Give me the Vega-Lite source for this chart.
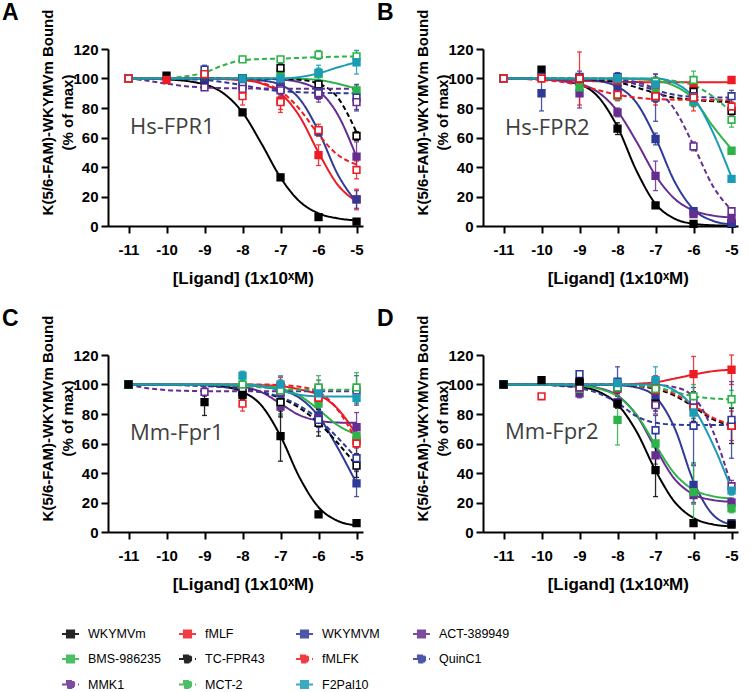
{
  "$schema": "https://vega.github.io/schema/vega-lite/v6.json",
  "padding": {"left": 2, "top": 2, "right": 0, "bottom": 0},
  "datasets": {
    "receptors": [
      {"panel": "A", "receptor": "Hs-FPR1"},
      {"panel": "B", "receptor": "Hs-FPR2"},
      {"panel": "C", "receptor": "Mm-Fpr1"},
      {"panel": "D", "receptor": "Mm-Fpr2"}
    ],
    "pts": [
      {"panel":"A","ligand":"WKYMVm","logc":-11,"pct":100,"sem":0},
      {"panel":"A","ligand":"WKYMVm","logc":-10,"pct":102,"sem":1.5},
      {"panel":"A","ligand":"WKYMVm","logc":-9,"pct":99,"sem":2},
      {"panel":"A","ligand":"WKYMVm","logc":-8,"pct":77,"sem":2},
      {"panel":"A","ligand":"WKYMVm","logc":-7,"pct":33,"sem":2},
      {"panel":"A","ligand":"WKYMVm","logc":-6,"pct":6,"sem":1},
      {"panel":"A","ligand":"WKYMVm","logc":-5,"pct":3,"sem":1},
      {"panel":"A","ligand":"fMLF","logc":-11,"pct":100,"sem":0},
      {"panel":"A","ligand":"fMLF","logc":-10,"pct":99,"sem":0},
      {"panel":"A","ligand":"fMLF","logc":-9,"pct":103,"sem":2},
      {"panel":"A","ligand":"fMLF","logc":-8,"pct":96,"sem":3},
      {"panel":"A","ligand":"fMLF","logc":-7,"pct":85,"sem":6},
      {"panel":"A","ligand":"fMLF","logc":-6,"pct":48,"sem":7},
      {"panel":"A","ligand":"fMLF","logc":-5,"pct":18,"sem":7},
      {"panel":"A","ligand":"WKYMVM","logc":-11,"pct":100,"sem":0},
      {"panel":"A","ligand":"WKYMVM","logc":-9,"pct":100,"sem":1},
      {"panel":"A","ligand":"WKYMVM","logc":-8,"pct":100,"sem":2},
      {"panel":"A","ligand":"WKYMVM","logc":-7,"pct":95,"sem":4},
      {"panel":"A","ligand":"WKYMVM","logc":-6,"pct":64,"sem":3},
      {"panel":"A","ligand":"WKYMVM","logc":-5,"pct":18,"sem":6},
      {"panel":"A","ligand":"ACT-389949","logc":-11,"pct":100,"sem":0},
      {"panel":"A","ligand":"ACT-389949","logc":-8,"pct":100,"sem":1},
      {"panel":"A","ligand":"ACT-389949","logc":-7,"pct":97,"sem":3},
      {"panel":"A","ligand":"ACT-389949","logc":-6,"pct":89,"sem":5},
      {"panel":"A","ligand":"ACT-389949","logc":-5,"pct":47,"sem":10},
      {"panel":"A","ligand":"BMS-986235","logc":-11,"pct":100,"sem":0},
      {"panel":"A","ligand":"BMS-986235","logc":-8,"pct":100,"sem":2},
      {"panel":"A","ligand":"BMS-986235","logc":-7,"pct":104,"sem":3},
      {"panel":"A","ligand":"BMS-986235","logc":-6,"pct":103,"sem":4},
      {"panel":"A","ligand":"BMS-986235","logc":-5,"pct":92,"sem":3},
      {"panel":"A","ligand":"TC-FPR43","logc":-11,"pct":100,"sem":0},
      {"panel":"A","ligand":"TC-FPR43","logc":-8,"pct":100,"sem":2},
      {"panel":"A","ligand":"TC-FPR43","logc":-7,"pct":107,"sem":3},
      {"panel":"A","ligand":"TC-FPR43","logc":-6,"pct":96,"sem":2},
      {"panel":"A","ligand":"TC-FPR43","logc":-5,"pct":61,"sem":3},
      {"panel":"A","ligand":"QuinC1","logc":-11,"pct":100,"sem":0},
      {"panel":"A","ligand":"QuinC1","logc":-9,"pct":106,"sem":3},
      {"panel":"A","ligand":"QuinC1","logc":-8,"pct":95,"sem":3},
      {"panel":"A","ligand":"QuinC1","logc":-7,"pct":93,"sem":4},
      {"panel":"A","ligand":"QuinC1","logc":-6,"pct":91,"sem":5},
      {"panel":"A","ligand":"QuinC1","logc":-5,"pct":87,"sem":9},
      {"panel":"A","ligand":"MMK1","logc":-11,"pct":100,"sem":0},
      {"panel":"A","ligand":"MMK1","logc":-9,"pct":94,"sem":2},
      {"panel":"A","ligand":"MMK1","logc":-8,"pct":93,"sem":3},
      {"panel":"A","ligand":"MMK1","logc":-7,"pct":92,"sem":4},
      {"panel":"A","ligand":"MMK1","logc":-6,"pct":90,"sem":4},
      {"panel":"A","ligand":"MMK1","logc":-5,"pct":84,"sem":5},
      {"panel":"A","ligand":"MCT-2","logc":-11,"pct":100,"sem":0},
      {"panel":"A","ligand":"MCT-2","logc":-9,"pct":103,"sem":2},
      {"panel":"A","ligand":"MCT-2","logc":-8,"pct":113,"sem":2},
      {"panel":"A","ligand":"MCT-2","logc":-7,"pct":113,"sem":2},
      {"panel":"A","ligand":"MCT-2","logc":-6,"pct":116,"sem":3},
      {"panel":"A","ligand":"MCT-2","logc":-5,"pct":115,"sem":4},
      {"panel":"A","ligand":"F2Pal10","logc":-11,"pct":100,"sem":0},
      {"panel":"A","ligand":"F2Pal10","logc":-8,"pct":100,"sem":2},
      {"panel":"A","ligand":"F2Pal10","logc":-7,"pct":100,"sem":3},
      {"panel":"A","ligand":"F2Pal10","logc":-6,"pct":104,"sem":5},
      {"panel":"A","ligand":"F2Pal10","logc":-5,"pct":111,"sem":8},
      {"panel":"A","ligand":"fMLFK","logc":-11,"pct":100,"sem":0},
      {"panel":"A","ligand":"fMLFK","logc":-9,"pct":103,"sem":2},
      {"panel":"A","ligand":"fMLFK","logc":-8,"pct":88,"sem":6},
      {"panel":"A","ligand":"fMLFK","logc":-7,"pct":84,"sem":7},
      {"panel":"A","ligand":"fMLFK","logc":-6,"pct":65,"sem":4},
      {"panel":"A","ligand":"fMLFK","logc":-5,"pct":38,"sem":6},

      {"panel":"B","ligand":"WKYMVm","logc":-11,"pct":100,"sem":0},
      {"panel":"B","ligand":"WKYMVm","logc":-10,"pct":106,"sem":1},
      {"panel":"B","ligand":"WKYMVm","logc":-9,"pct":98,"sem":2},
      {"panel":"B","ligand":"WKYMVm","logc":-8,"pct":66,"sem":4},
      {"panel":"B","ligand":"WKYMVm","logc":-7,"pct":14,"sem":1.5},
      {"panel":"B","ligand":"WKYMVm","logc":-6,"pct":1.5,"sem":0.5},
      {"panel":"B","ligand":"WKYMVm","logc":-5,"pct":1.5,"sem":0.5},
      {"panel":"B","ligand":"fMLF","logc":-11,"pct":100,"sem":0},
      {"panel":"B","ligand":"fMLF","logc":-9,"pct":99,"sem":2},
      {"panel":"B","ligand":"fMLF","logc":-8,"pct":97,"sem":2},
      {"panel":"B","ligand":"fMLF","logc":-7,"pct":95,"sem":3},
      {"panel":"B","ligand":"fMLF","logc":-6,"pct":96,"sem":2},
      {"panel":"B","ligand":"fMLF","logc":-5,"pct":99,"sem":2},
      {"panel":"B","ligand":"WKYMVM","logc":-11,"pct":100,"sem":0},
      {"panel":"B","ligand":"WKYMVM","logc":-10,"pct":90,"sem":12},
      {"panel":"B","ligand":"WKYMVM","logc":-9,"pct":100,"sem":3},
      {"panel":"B","ligand":"WKYMVM","logc":-8,"pct":93,"sem":3},
      {"panel":"B","ligand":"WKYMVM","logc":-7,"pct":59,"sem":4},
      {"panel":"B","ligand":"WKYMVM","logc":-6,"pct":10,"sem":2},
      {"panel":"B","ligand":"WKYMVM","logc":-5,"pct":2,"sem":1},
      {"panel":"B","ligand":"ACT-389949","logc":-11,"pct":100,"sem":0},
      {"panel":"B","ligand":"ACT-389949","logc":-9,"pct":90,"sem":10},
      {"panel":"B","ligand":"ACT-389949","logc":-8,"pct":77,"sem":3},
      {"panel":"B","ligand":"ACT-389949","logc":-7,"pct":34,"sem":10},
      {"panel":"B","ligand":"ACT-389949","logc":-6,"pct":8,"sem":2},
      {"panel":"B","ligand":"ACT-389949","logc":-5,"pct":5,"sem":1},
      {"panel":"B","ligand":"BMS-986235","logc":-11,"pct":100,"sem":0},
      {"panel":"B","ligand":"BMS-986235","logc":-9,"pct":94,"sem":3},
      {"panel":"B","ligand":"BMS-986235","logc":-8,"pct":88,"sem":3},
      {"panel":"B","ligand":"BMS-986235","logc":-7,"pct":90,"sem":5},
      {"panel":"B","ligand":"BMS-986235","logc":-6,"pct":84,"sem":3},
      {"panel":"B","ligand":"BMS-986235","logc":-5,"pct":51,"sem":2},
      {"panel":"B","ligand":"TC-FPR43","logc":-11,"pct":100,"sem":0},
      {"panel":"B","ligand":"TC-FPR43","logc":-9,"pct":100,"sem":2},
      {"panel":"B","ligand":"TC-FPR43","logc":-8,"pct":100,"sem":2},
      {"panel":"B","ligand":"TC-FPR43","logc":-7,"pct":88,"sem":4},
      {"panel":"B","ligand":"TC-FPR43","logc":-6,"pct":91,"sem":4},
      {"panel":"B","ligand":"TC-FPR43","logc":-5,"pct":78,"sem":4},
      {"panel":"B","ligand":"QuinC1","logc":-11,"pct":100,"sem":0},
      {"panel":"B","ligand":"QuinC1","logc":-10,"pct":101,"sem":3},
      {"panel":"B","ligand":"QuinC1","logc":-9,"pct":101,"sem":4},
      {"panel":"B","ligand":"QuinC1","logc":-8,"pct":101,"sem":3},
      {"panel":"B","ligand":"QuinC1","logc":-7,"pct":87,"sem":16},
      {"panel":"B","ligand":"QuinC1","logc":-6,"pct":88,"sem":5},
      {"panel":"B","ligand":"QuinC1","logc":-5,"pct":88,"sem":4},
      {"panel":"B","ligand":"MMK1","logc":-11,"pct":100,"sem":0},
      {"panel":"B","ligand":"MMK1","logc":-9,"pct":100,"sem":3},
      {"panel":"B","ligand":"MMK1","logc":-8,"pct":100,"sem":2},
      {"panel":"B","ligand":"MMK1","logc":-7,"pct":97,"sem":6},
      {"panel":"B","ligand":"MMK1","logc":-6,"pct":54,"sem":3},
      {"panel":"B","ligand":"MMK1","logc":-5,"pct":10,"sem":2},
      {"panel":"B","ligand":"MCT-2","logc":-11,"pct":100,"sem":0},
      {"panel":"B","ligand":"MCT-2","logc":-8,"pct":100,"sem":2},
      {"panel":"B","ligand":"MCT-2","logc":-7,"pct":98,"sem":3},
      {"panel":"B","ligand":"MCT-2","logc":-6,"pct":99,"sem":6},
      {"panel":"B","ligand":"MCT-2","logc":-5,"pct":72,"sem":5},
      {"panel":"B","ligand":"F2Pal10","logc":-11,"pct":100,"sem":0},
      {"panel":"B","ligand":"F2Pal10","logc":-8,"pct":100,"sem":2},
      {"panel":"B","ligand":"F2Pal10","logc":-7,"pct":96,"sem":5},
      {"panel":"B","ligand":"F2Pal10","logc":-6,"pct":85,"sem":4},
      {"panel":"B","ligand":"F2Pal10","logc":-5,"pct":32,"sem":2},
      {"panel":"B","ligand":"fMLFK","logc":-11,"pct":100,"sem":0},
      {"panel":"B","ligand":"fMLFK","logc":-10,"pct":100,"sem":2},
      {"panel":"B","ligand":"fMLFK","logc":-9,"pct":100,"sem":18},
      {"panel":"B","ligand":"fMLFK","logc":-8,"pct":89,"sem":4},
      {"panel":"B","ligand":"fMLFK","logc":-7,"pct":88,"sem":6},
      {"panel":"B","ligand":"fMLFK","logc":-6,"pct":87,"sem":9},
      {"panel":"B","ligand":"fMLFK","logc":-5,"pct":81,"sem":6},

      {"panel":"C","ligand":"fMLF","logc":-11,"pct":100,"sem":0},
      {"panel":"C","ligand":"fMLF","logc":-8,"pct":97,"sem":4},
      {"panel":"C","ligand":"fMLF","logc":-7,"pct":99,"sem":6},
      {"panel":"C","ligand":"fMLF","logc":-6,"pct":92,"sem":5},
      {"panel":"C","ligand":"fMLF","logc":-5,"pct":62,"sem":5},
      {"panel":"C","ligand":"WKYMVM","logc":-11,"pct":100,"sem":0},
      {"panel":"C","ligand":"WKYMVM","logc":-8,"pct":97,"sem":3},
      {"panel":"C","ligand":"WKYMVM","logc":-7,"pct":98,"sem":5},
      {"panel":"C","ligand":"WKYMVM","logc":-6,"pct":79,"sem":8},
      {"panel":"C","ligand":"WKYMVM","logc":-5,"pct":33,"sem":9},
      {"panel":"C","ligand":"ACT-389949","logc":-11,"pct":100,"sem":0},
      {"panel":"C","ligand":"ACT-389949","logc":-8,"pct":94,"sem":4},
      {"panel":"C","ligand":"ACT-389949","logc":-7,"pct":85,"sem":5},
      {"panel":"C","ligand":"ACT-389949","logc":-6,"pct":77,"sem":6},
      {"panel":"C","ligand":"ACT-389949","logc":-5,"pct":71,"sem":10},
      {"panel":"C","ligand":"BMS-986235","logc":-11,"pct":100,"sem":0},
      {"panel":"C","ligand":"BMS-986235","logc":-8,"pct":99,"sem":3},
      {"panel":"C","ligand":"BMS-986235","logc":-7,"pct":88,"sem":9},
      {"panel":"C","ligand":"BMS-986235","logc":-6,"pct":87,"sem":6},
      {"panel":"C","ligand":"BMS-986235","logc":-5,"pct":65,"sem":8},
      {"panel":"C","ligand":"TC-FPR43","logc":-11,"pct":100,"sem":0},
      {"panel":"C","ligand":"TC-FPR43","logc":-8,"pct":95,"sem":3},
      {"panel":"C","ligand":"TC-FPR43","logc":-7,"pct":88,"sem":10},
      {"panel":"C","ligand":"TC-FPR43","logc":-6,"pct":74,"sem":9},
      {"panel":"C","ligand":"TC-FPR43","logc":-5,"pct":45,"sem":8},
      {"panel":"C","ligand":"fMLFK","logc":-11,"pct":100,"sem":0},
      {"panel":"C","ligand":"fMLFK","logc":-8,"pct":87,"sem":5},
      {"panel":"C","ligand":"fMLFK","logc":-7,"pct":98,"sem":7},
      {"panel":"C","ligand":"fMLFK","logc":-6,"pct":91,"sem":5},
      {"panel":"C","ligand":"fMLFK","logc":-5,"pct":60,"sem":7},
      {"panel":"C","ligand":"QuinC1","logc":-11,"pct":100,"sem":0},
      {"panel":"C","ligand":"QuinC1","logc":-8,"pct":96,"sem":3},
      {"panel":"C","ligand":"QuinC1","logc":-7,"pct":94,"sem":5},
      {"panel":"C","ligand":"QuinC1","logc":-6,"pct":76,"sem":8},
      {"panel":"C","ligand":"QuinC1","logc":-5,"pct":50,"sem":9},
      {"panel":"C","ligand":"MMK1","logc":-11,"pct":100,"sem":0},
      {"panel":"C","ligand":"MMK1","logc":-9,"pct":95,"sem":3},
      {"panel":"C","ligand":"MMK1","logc":-8,"pct":96,"sem":3},
      {"panel":"C","ligand":"MMK1","logc":-7,"pct":95,"sem":5},
      {"panel":"C","ligand":"MMK1","logc":-6,"pct":97,"sem":6},
      {"panel":"C","ligand":"MMK1","logc":-5,"pct":96,"sem":10},
      {"panel":"C","ligand":"MCT-2","logc":-11,"pct":100,"sem":0},
      {"panel":"C","ligand":"MCT-2","logc":-8,"pct":100,"sem":3},
      {"panel":"C","ligand":"MCT-2","logc":-7,"pct":96,"sem":5},
      {"panel":"C","ligand":"MCT-2","logc":-6,"pct":98,"sem":8},
      {"panel":"C","ligand":"MCT-2","logc":-5,"pct":98,"sem":10},
      {"panel":"C","ligand":"F2Pal10","logc":-11,"pct":100,"sem":0},
      {"panel":"C","ligand":"F2Pal10","logc":-8,"pct":106,"sem":3},
      {"panel":"C","ligand":"F2Pal10","logc":-7,"pct":100,"sem":6},
      {"panel":"C","ligand":"F2Pal10","logc":-6,"pct":94,"sem":5},
      {"panel":"C","ligand":"F2Pal10","logc":-5,"pct":91,"sem":4},
      {"panel":"C","ligand":"WKYMVm","logc":-11,"pct":100,"sem":0},
      {"panel":"C","ligand":"WKYMVm","logc":-9,"pct":88,"sem":9},
      {"panel":"C","ligand":"WKYMVm","logc":-8,"pct":93,"sem":3},
      {"panel":"C","ligand":"WKYMVm","logc":-7,"pct":65,"sem":17},
      {"panel":"C","ligand":"WKYMVm","logc":-6,"pct":12,"sem":2},
      {"panel":"C","ligand":"WKYMVm","logc":-5,"pct":6,"sem":1},

      {"panel":"D","ligand":"fMLF","logc":-11,"pct":100,"sem":0},
      {"panel":"D","ligand":"fMLF","logc":-8,"pct":97,"sem":3},
      {"panel":"D","ligand":"fMLF","logc":-7,"pct":101,"sem":5},
      {"panel":"D","ligand":"fMLF","logc":-6,"pct":107,"sem":12},
      {"panel":"D","ligand":"fMLF","logc":-5,"pct":110,"sem":10},
      {"panel":"D","ligand":"WKYMVM","logc":-11,"pct":100,"sem":0},
      {"panel":"D","ligand":"WKYMVM","logc":-9,"pct":100,"sem":3},
      {"panel":"D","ligand":"WKYMVM","logc":-8,"pct":102,"sem":10},
      {"panel":"D","ligand":"WKYMVM","logc":-7,"pct":92,"sem":8},
      {"panel":"D","ligand":"WKYMVM","logc":-6,"pct":32,"sem":13},
      {"panel":"D","ligand":"WKYMVM","logc":-5,"pct":6,"sem":2},
      {"panel":"D","ligand":"ACT-389949","logc":-11,"pct":100,"sem":0},
      {"panel":"D","ligand":"ACT-389949","logc":-9,"pct":94,"sem":3},
      {"panel":"D","ligand":"ACT-389949","logc":-8,"pct":88,"sem":4},
      {"panel":"D","ligand":"ACT-389949","logc":-7,"pct":52,"sem":6},
      {"panel":"D","ligand":"ACT-389949","logc":-6,"pct":25,"sem":5},
      {"panel":"D","ligand":"ACT-389949","logc":-5,"pct":20,"sem":3},
      {"panel":"D","ligand":"BMS-986235","logc":-11,"pct":100,"sem":0},
      {"panel":"D","ligand":"BMS-986235","logc":-9,"pct":97,"sem":3},
      {"panel":"D","ligand":"BMS-986235","logc":-8,"pct":76,"sem":17},
      {"panel":"D","ligand":"BMS-986235","logc":-7,"pct":60,"sem":10},
      {"panel":"D","ligand":"BMS-986235","logc":-6,"pct":27,"sem":20},
      {"panel":"D","ligand":"BMS-986235","logc":-5,"pct":16,"sem":3},
      {"panel":"D","ligand":"TC-FPR43","logc":-11,"pct":100,"sem":0},
      {"panel":"D","ligand":"TC-FPR43","logc":-9,"pct":101,"sem":2},
      {"panel":"D","ligand":"TC-FPR43","logc":-8,"pct":99,"sem":3},
      {"panel":"D","ligand":"TC-FPR43","logc":-7,"pct":87,"sem":5},
      {"panel":"D","ligand":"TC-FPR43","logc":-6,"pct":85,"sem":10},
      {"panel":"D","ligand":"TC-FPR43","logc":-5,"pct":72,"sem":12},
      {"panel":"D","ligand":"fMLFK","logc":-11,"pct":100,"sem":0},
      {"panel":"D","ligand":"fMLFK","logc":-10,"pct":92,"sem":1},
      {"panel":"D","ligand":"fMLFK","logc":-9,"pct":98,"sem":2},
      {"panel":"D","ligand":"fMLFK","logc":-8,"pct":98,"sem":3},
      {"panel":"D","ligand":"fMLFK","logc":-7,"pct":96,"sem":5},
      {"panel":"D","ligand":"fMLFK","logc":-6,"pct":85,"sem":8},
      {"panel":"D","ligand":"fMLFK","logc":-5,"pct":72,"sem":10},
      {"panel":"D","ligand":"QuinC1","logc":-11,"pct":100,"sem":0},
      {"panel":"D","ligand":"QuinC1","logc":-9,"pct":107,"sem":2},
      {"panel":"D","ligand":"QuinC1","logc":-8,"pct":98,"sem":4},
      {"panel":"D","ligand":"QuinC1","logc":-7,"pct":69,"sem":10},
      {"panel":"D","ligand":"QuinC1","logc":-6,"pct":72,"sem":26},
      {"panel":"D","ligand":"QuinC1","logc":-5,"pct":76,"sem":26},
      {"panel":"D","ligand":"MMK1","logc":-11,"pct":100,"sem":0},
      {"panel":"D","ligand":"MMK1","logc":-9,"pct":98,"sem":2},
      {"panel":"D","ligand":"MMK1","logc":-8,"pct":99,"sem":3},
      {"panel":"D","ligand":"MMK1","logc":-7,"pct":86,"sem":6},
      {"panel":"D","ligand":"MMK1","logc":-6,"pct":89,"sem":6},
      {"panel":"D","ligand":"MMK1","logc":-5,"pct":31,"sem":4},
      {"panel":"D","ligand":"MCT-2","logc":-11,"pct":100,"sem":0},
      {"panel":"D","ligand":"MCT-2","logc":-8,"pct":98,"sem":3},
      {"panel":"D","ligand":"MCT-2","logc":-7,"pct":97,"sem":5},
      {"panel":"D","ligand":"MCT-2","logc":-6,"pct":92,"sem":8},
      {"panel":"D","ligand":"MCT-2","logc":-5,"pct":90,"sem":6},
      {"panel":"D","ligand":"F2Pal10","logc":-11,"pct":100,"sem":0},
      {"panel":"D","ligand":"F2Pal10","logc":-8,"pct":101,"sem":3},
      {"panel":"D","ligand":"F2Pal10","logc":-7,"pct":103,"sem":9},
      {"panel":"D","ligand":"F2Pal10","logc":-6,"pct":81,"sem":4},
      {"panel":"D","ligand":"F2Pal10","logc":-5,"pct":28,"sem":3},
      {"panel":"D","ligand":"WKYMVm","logc":-11,"pct":100,"sem":0},
      {"panel":"D","ligand":"WKYMVm","logc":-10,"pct":103,"sem":1},
      {"panel":"D","ligand":"WKYMVm","logc":-9,"pct":102,"sem":2},
      {"panel":"D","ligand":"WKYMVm","logc":-8,"pct":87,"sem":3},
      {"panel":"D","ligand":"WKYMVm","logc":-7,"pct":42,"sem":18},
      {"panel":"D","ligand":"WKYMVm","logc":-6,"pct":6,"sem":1},
      {"panel":"D","ligand":"WKYMVm","logc":-5,"pct":5,"sem":1}
    ],
    "fit": [
      {"panel":"A","ligand":"WKYMVm","logc":-11,"pct":100},
      {"panel":"A","ligand":"WKYMVm","logc":-10,"pct":99.4},
      {"panel":"A","ligand":"WKYMVm","logc":-9,"pct":96},
      {"panel":"A","ligand":"WKYMVm","logc":-8.5,"pct":89.9},
      {"panel":"A","ligand":"WKYMVm","logc":-8,"pct":77},
      {"panel":"A","ligand":"WKYMVm","logc":-7.5,"pct":55.8},
      {"panel":"A","ligand":"WKYMVm","logc":-7,"pct":32.8},
      {"panel":"A","ligand":"WKYMVm","logc":-6.5,"pct":16.7},
      {"panel":"A","ligand":"WKYMVm","logc":-6,"pct":8.6},
      {"panel":"A","ligand":"WKYMVm","logc":-5.5,"pct":5.2},
      {"panel":"A","ligand":"WKYMVm","logc":-5,"pct":3.8},
      {"panel":"A","ligand":"fMLF","logc":-11,"pct":100},
      {"panel":"A","ligand":"fMLF","logc":-9,"pct":99.9},
      {"panel":"A","ligand":"fMLF","logc":-8,"pct":98.9},
      {"panel":"A","ligand":"fMLF","logc":-7.5,"pct":96.6},
      {"panel":"A","ligand":"fMLF","logc":-7,"pct":89.9},
      {"panel":"A","ligand":"fMLF","logc":-6.5,"pct":74.4},
      {"panel":"A","ligand":"fMLF","logc":-6,"pct":49.8},
      {"panel":"A","ligand":"fMLF","logc":-5.5,"pct":28.1},
      {"panel":"A","ligand":"fMLF","logc":-5,"pct":16.6},
      {"panel":"A","ligand":"WKYMVM","logc":-11,"pct":100},
      {"panel":"A","ligand":"WKYMVM","logc":-8,"pct":99.6},
      {"panel":"A","ligand":"WKYMVM","logc":-7.5,"pct":98.7},
      {"panel":"A","ligand":"WKYMVM","logc":-7,"pct":95.7},
      {"panel":"A","ligand":"WKYMVM","logc":-6.5,"pct":86.2},
      {"panel":"A","ligand":"WKYMVM","logc":-6,"pct":64.3},
      {"panel":"A","ligand":"WKYMVM","logc":-5.5,"pct":35.3},
      {"panel":"A","ligand":"WKYMVM","logc":-5,"pct":16},
      {"panel":"A","ligand":"ACT-389949","logc":-11,"pct":100},
      {"panel":"A","ligand":"ACT-389949","logc":-8,"pct":99.9},
      {"panel":"A","ligand":"ACT-389949","logc":-7.5,"pct":99.8},
      {"panel":"A","ligand":"ACT-389949","logc":-7,"pct":99.3},
      {"panel":"A","ligand":"ACT-389949","logc":-6.5,"pct":97.5},
      {"panel":"A","ligand":"ACT-389949","logc":-6,"pct":91.7},
      {"panel":"A","ligand":"ACT-389949","logc":-5.5,"pct":75.8},
      {"panel":"A","ligand":"ACT-389949","logc":-5,"pct":46.8},
      {"panel":"A","ligand":"BMS-986235","logc":-11,"pct":100},
      {"panel":"A","ligand":"BMS-986235","logc":-7,"pct":100},
      {"panel":"A","ligand":"BMS-986235","logc":-6.5,"pct":99.8},
      {"panel":"A","ligand":"BMS-986235","logc":-6,"pct":99},
      {"panel":"A","ligand":"BMS-986235","logc":-5.5,"pct":96.5},
      {"panel":"A","ligand":"BMS-986235","logc":-5,"pct":93},
      {"panel":"A","ligand":"TC-FPR43","logc":-11,"pct":100},
      {"panel":"A","ligand":"TC-FPR43","logc":-7,"pct":99.8},
      {"panel":"A","ligand":"TC-FPR43","logc":-6.5,"pct":99.1},
      {"panel":"A","ligand":"TC-FPR43","logc":-6,"pct":96.5},
      {"panel":"A","ligand":"TC-FPR43","logc":-5.5,"pct":87.3},
      {"panel":"A","ligand":"TC-FPR43","logc":-5,"pct":63.5},
      {"panel":"A","ligand":"fMLFK","logc":-11,"pct":100},
      {"panel":"A","ligand":"fMLFK","logc":-9,"pct":99.9},
      {"panel":"A","ligand":"fMLFK","logc":-8,"pct":99},
      {"panel":"A","ligand":"fMLFK","logc":-7.5,"pct":97.1},
      {"panel":"A","ligand":"fMLFK","logc":-7,"pct":91.5},
      {"panel":"A","ligand":"fMLFK","logc":-6.5,"pct":79.3},
      {"panel":"A","ligand":"fMLFK","logc":-6,"pct":62},
      {"panel":"A","ligand":"fMLFK","logc":-5.5,"pct":48.3},
      {"panel":"A","ligand":"fMLFK","logc":-5,"pct":41.7},
      {"panel":"A","ligand":"QuinC1","logc":-11,"pct":100},
      {"panel":"A","ligand":"QuinC1","logc":-10,"pct":99.8},
      {"panel":"A","ligand":"QuinC1","logc":-9,"pct":99},
      {"panel":"A","ligand":"QuinC1","logc":-8.5,"pct":97.5},
      {"panel":"A","ligand":"QuinC1","logc":-8,"pct":95.5},
      {"panel":"A","ligand":"QuinC1","logc":-7.5,"pct":93},
      {"panel":"A","ligand":"QuinC1","logc":-7,"pct":91.5},
      {"panel":"A","ligand":"QuinC1","logc":-6,"pct":90.3},
      {"panel":"A","ligand":"QuinC1","logc":-5,"pct":90},
      {"panel":"A","ligand":"MMK1","logc":-11,"pct":100},
      {"panel":"A","ligand":"MMK1","logc":-10.5,"pct":98.5},
      {"panel":"A","ligand":"MMK1","logc":-10,"pct":96.5},
      {"panel":"A","ligand":"MMK1","logc":-9.5,"pct":94.8},
      {"panel":"A","ligand":"MMK1","logc":-9,"pct":93.9},
      {"panel":"A","ligand":"MMK1","logc":-8,"pct":93.3},
      {"panel":"A","ligand":"MMK1","logc":-5,"pct":93},
      {"panel":"A","ligand":"MCT-2","logc":-11,"pct":100},
      {"panel":"A","ligand":"MCT-2","logc":-10,"pct":100.3},
      {"panel":"A","ligand":"MCT-2","logc":-9.5,"pct":101.5},
      {"panel":"A","ligand":"MCT-2","logc":-9,"pct":104},
      {"panel":"A","ligand":"MCT-2","logc":-8.5,"pct":109},
      {"panel":"A","ligand":"MCT-2","logc":-8,"pct":112.5},
      {"panel":"A","ligand":"MCT-2","logc":-7.5,"pct":113.2},
      {"panel":"A","ligand":"MCT-2","logc":-7,"pct":113.5},
      {"panel":"A","ligand":"MCT-2","logc":-6,"pct":114.5},
      {"panel":"A","ligand":"MCT-2","logc":-5,"pct":115},
      {"panel":"A","ligand":"F2Pal10","logc":-11,"pct":100},
      {"panel":"A","ligand":"F2Pal10","logc":-7,"pct":100},
      {"panel":"A","ligand":"F2Pal10","logc":-6.5,"pct":101},
      {"panel":"A","ligand":"F2Pal10","logc":-6,"pct":103.5},
      {"panel":"A","ligand":"F2Pal10","logc":-5.5,"pct":107.5},
      {"panel":"A","ligand":"F2Pal10","logc":-5,"pct":111},

      {"panel":"B","ligand":"WKYMVm","logc":-11,"pct":100},
      {"panel":"B","ligand":"WKYMVm","logc":-10,"pct":99.6},
      {"panel":"B","ligand":"WKYMVm","logc":-9,"pct":95.9},
      {"panel":"B","ligand":"WKYMVm","logc":-8.5,"pct":87.3},
      {"panel":"B","ligand":"WKYMVm","logc":-8,"pct":67.1},
      {"panel":"B","ligand":"WKYMVm","logc":-7.5,"pct":37.4},
      {"panel":"B","ligand":"WKYMVm","logc":-7,"pct":15},
      {"panel":"B","ligand":"WKYMVm","logc":-6.5,"pct":5},
      {"panel":"B","ligand":"WKYMVm","logc":-6,"pct":1.5},
      {"panel":"B","ligand":"WKYMVm","logc":-5.5,"pct":0.5},
      {"panel":"B","ligand":"WKYMVm","logc":-5,"pct":0.2},
      {"panel":"B","ligand":"fMLF","logc":-11,"pct":100},
      {"panel":"B","ligand":"fMLF","logc":-10,"pct":99.6},
      {"panel":"B","ligand":"fMLF","logc":-9,"pct":98.5},
      {"panel":"B","ligand":"fMLF","logc":-8,"pct":97.8},
      {"panel":"B","ligand":"fMLF","logc":-7,"pct":97.5},
      {"panel":"B","ligand":"fMLF","logc":-5,"pct":97.5},
      {"panel":"B","ligand":"WKYMVM","logc":-11,"pct":100},
      {"panel":"B","ligand":"WKYMVM","logc":-9,"pct":99.5},
      {"panel":"B","ligand":"WKYMVM","logc":-8.5,"pct":98.3},
      {"panel":"B","ligand":"WKYMVM","logc":-8,"pct":94.5},
      {"panel":"B","ligand":"WKYMVM","logc":-7.5,"pct":83.5},
      {"panel":"B","ligand":"WKYMVM","logc":-7,"pct":59.8},
      {"panel":"B","ligand":"WKYMVM","logc":-6.5,"pct":30.2},
      {"panel":"B","ligand":"WKYMVM","logc":-6,"pct":11.3},
      {"panel":"B","ligand":"WKYMVM","logc":-5.5,"pct":3.6},
      {"panel":"B","ligand":"WKYMVM","logc":-5,"pct":1.1},
      {"panel":"B","ligand":"ACT-389949","logc":-11,"pct":100},
      {"panel":"B","ligand":"ACT-389949","logc":-10,"pct":99.5},
      {"panel":"B","ligand":"ACT-389949","logc":-9,"pct":96.3},
      {"panel":"B","ligand":"ACT-389949","logc":-8.5,"pct":90.5},
      {"panel":"B","ligand":"ACT-389949","logc":-8,"pct":77.8},
      {"panel":"B","ligand":"ACT-389949","logc":-7.5,"pct":57.2},
      {"panel":"B","ligand":"ACT-389949","logc":-7,"pct":34.3},
      {"panel":"B","ligand":"ACT-389949","logc":-6.5,"pct":18.5},
      {"panel":"B","ligand":"ACT-389949","logc":-6,"pct":10.5},
      {"panel":"B","ligand":"ACT-389949","logc":-5.5,"pct":7.1},
      {"panel":"B","ligand":"ACT-389949","logc":-5,"pct":5.8},
      {"panel":"B","ligand":"BMS-986235","logc":-11,"pct":100},
      {"panel":"B","ligand":"BMS-986235","logc":-8,"pct":100},
      {"panel":"B","ligand":"BMS-986235","logc":-7.5,"pct":99.5},
      {"panel":"B","ligand":"BMS-986235","logc":-7,"pct":98.5},
      {"panel":"B","ligand":"BMS-986235","logc":-6.5,"pct":95},
      {"panel":"B","ligand":"BMS-986235","logc":-6,"pct":86},
      {"panel":"B","ligand":"BMS-986235","logc":-5.5,"pct":68},
      {"panel":"B","ligand":"BMS-986235","logc":-5,"pct":52},
      {"panel":"B","ligand":"TC-FPR43","logc":-11,"pct":100},
      {"panel":"B","ligand":"TC-FPR43","logc":-9,"pct":99.7},
      {"panel":"B","ligand":"TC-FPR43","logc":-8.5,"pct":99},
      {"panel":"B","ligand":"TC-FPR43","logc":-8,"pct":97.5},
      {"panel":"B","ligand":"TC-FPR43","logc":-7.5,"pct":94},
      {"panel":"B","ligand":"TC-FPR43","logc":-7,"pct":90},
      {"panel":"B","ligand":"TC-FPR43","logc":-6.5,"pct":87},
      {"panel":"B","ligand":"TC-FPR43","logc":-6,"pct":85.5},
      {"panel":"B","ligand":"TC-FPR43","logc":-5,"pct":84},
      {"panel":"B","ligand":"fMLFK","logc":-11,"pct":100},
      {"panel":"B","ligand":"fMLFK","logc":-10.5,"pct":99.7},
      {"panel":"B","ligand":"fMLFK","logc":-10,"pct":99},
      {"panel":"B","ligand":"fMLFK","logc":-9.5,"pct":97.8},
      {"panel":"B","ligand":"fMLFK","logc":-9,"pct":95.5},
      {"panel":"B","ligand":"fMLFK","logc":-8.5,"pct":92},
      {"panel":"B","ligand":"fMLFK","logc":-8,"pct":89},
      {"panel":"B","ligand":"fMLFK","logc":-7.5,"pct":87},
      {"panel":"B","ligand":"fMLFK","logc":-7,"pct":86},
      {"panel":"B","ligand":"fMLFK","logc":-6,"pct":85.5},
      {"panel":"B","ligand":"fMLFK","logc":-5,"pct":85.3},
      {"panel":"B","ligand":"QuinC1","logc":-11,"pct":100},
      {"panel":"B","ligand":"QuinC1","logc":-8.5,"pct":99.8},
      {"panel":"B","ligand":"QuinC1","logc":-8,"pct":99},
      {"panel":"B","ligand":"QuinC1","logc":-7.5,"pct":96},
      {"panel":"B","ligand":"QuinC1","logc":-7,"pct":92},
      {"panel":"B","ligand":"QuinC1","logc":-6.5,"pct":89},
      {"panel":"B","ligand":"QuinC1","logc":-6,"pct":87.5},
      {"panel":"B","ligand":"QuinC1","logc":-5,"pct":87},
      {"panel":"B","ligand":"MMK1","logc":-11,"pct":100},
      {"panel":"B","ligand":"MMK1","logc":-8,"pct":99.2},
      {"panel":"B","ligand":"MMK1","logc":-7.5,"pct":97.5},
      {"panel":"B","ligand":"MMK1","logc":-7,"pct":92.3},
      {"panel":"B","ligand":"MMK1","logc":-6.5,"pct":79.2},
      {"panel":"B","ligand":"MMK1","logc":-6,"pct":54.6},
      {"panel":"B","ligand":"MMK1","logc":-5.5,"pct":27.5},
      {"panel":"B","ligand":"MMK1","logc":-5,"pct":10.7},
      {"panel":"B","ligand":"MCT-2","logc":-11,"pct":100},
      {"panel":"B","ligand":"MCT-2","logc":-8,"pct":100},
      {"panel":"B","ligand":"MCT-2","logc":-7,"pct":99.5},
      {"panel":"B","ligand":"MCT-2","logc":-6.5,"pct":98.3},
      {"panel":"B","ligand":"MCT-2","logc":-6,"pct":95.5},
      {"panel":"B","ligand":"MCT-2","logc":-5.5,"pct":88},
      {"panel":"B","ligand":"MCT-2","logc":-5,"pct":77},
      {"panel":"B","ligand":"F2Pal10","logc":-11,"pct":100},
      {"panel":"B","ligand":"F2Pal10","logc":-7,"pct":100},
      {"panel":"B","ligand":"F2Pal10","logc":-6.5,"pct":97},
      {"panel":"B","ligand":"F2Pal10","logc":-6,"pct":87},
      {"panel":"B","ligand":"F2Pal10","logc":-5.5,"pct":64},
      {"panel":"B","ligand":"F2Pal10","logc":-5,"pct":33},

      {"panel":"C","ligand":"WKYMVm","logc":-11,"pct":100},
      {"panel":"C","ligand":"WKYMVm","logc":-10,"pct":99.9},
      {"panel":"C","ligand":"WKYMVm","logc":-9,"pct":99.5},
      {"panel":"C","ligand":"WKYMVm","logc":-8.5,"pct":98.5},
      {"panel":"C","ligand":"WKYMVm","logc":-8,"pct":95.1},
      {"panel":"C","ligand":"WKYMVm","logc":-7.5,"pct":85.7},
      {"panel":"C","ligand":"WKYMVm","logc":-7,"pct":65},
      {"panel":"C","ligand":"WKYMVm","logc":-6.5,"pct":37},
      {"panel":"C","ligand":"WKYMVm","logc":-6,"pct":16.8},
      {"panel":"C","ligand":"WKYMVm","logc":-5.5,"pct":7.6},
      {"panel":"C","ligand":"WKYMVm","logc":-5,"pct":4.5},
      {"panel":"C","ligand":"fMLF","logc":-11,"pct":100},
      {"panel":"C","ligand":"fMLF","logc":-8,"pct":100},
      {"panel":"C","ligand":"fMLF","logc":-7.5,"pct":99.6},
      {"panel":"C","ligand":"fMLF","logc":-7,"pct":98.9},
      {"panel":"C","ligand":"fMLF","logc":-6.5,"pct":96.7},
      {"panel":"C","ligand":"fMLF","logc":-6,"pct":93},
      {"panel":"C","ligand":"fMLF","logc":-5.5,"pct":83.6},
      {"panel":"C","ligand":"fMLF","logc":-5,"pct":66},
      {"panel":"C","ligand":"WKYMVM","logc":-11,"pct":100},
      {"panel":"C","ligand":"WKYMVM","logc":-8,"pct":99.5},
      {"panel":"C","ligand":"WKYMVM","logc":-7.5,"pct":98.7},
      {"panel":"C","ligand":"WKYMVM","logc":-7,"pct":96.4},
      {"panel":"C","ligand":"WKYMVM","logc":-6.5,"pct":90.9},
      {"panel":"C","ligand":"WKYMVM","logc":-6,"pct":78.5},
      {"panel":"C","ligand":"WKYMVM","logc":-5.5,"pct":57.3},
      {"panel":"C","ligand":"WKYMVM","logc":-5,"pct":33},
      {"panel":"C","ligand":"ACT-389949","logc":-11,"pct":100},
      {"panel":"C","ligand":"ACT-389949","logc":-9,"pct":100},
      {"panel":"C","ligand":"ACT-389949","logc":-8.5,"pct":99.6},
      {"panel":"C","ligand":"ACT-389949","logc":-8,"pct":98.5},
      {"panel":"C","ligand":"ACT-389949","logc":-7.5,"pct":94.8},
      {"panel":"C","ligand":"ACT-389949","logc":-7,"pct":87},
      {"panel":"C","ligand":"ACT-389949","logc":-6.5,"pct":79.2},
      {"panel":"C","ligand":"ACT-389949","logc":-6,"pct":75.5},
      {"panel":"C","ligand":"ACT-389949","logc":-5.5,"pct":74.2},
      {"panel":"C","ligand":"ACT-389949","logc":-5,"pct":74},
      {"panel":"C","ligand":"BMS-986235","logc":-11,"pct":100},
      {"panel":"C","ligand":"BMS-986235","logc":-8,"pct":99.7},
      {"panel":"C","ligand":"BMS-986235","logc":-7.5,"pct":99.1},
      {"panel":"C","ligand":"BMS-986235","logc":-7,"pct":97.3},
      {"panel":"C","ligand":"BMS-986235","logc":-6.5,"pct":92.4},
      {"panel":"C","ligand":"BMS-986235","logc":-6,"pct":83},
      {"panel":"C","ligand":"BMS-986235","logc":-5.5,"pct":72.5},
      {"panel":"C","ligand":"BMS-986235","logc":-5,"pct":66},
      {"panel":"C","ligand":"TC-FPR43","logc":-11,"pct":100},
      {"panel":"C","ligand":"TC-FPR43","logc":-10,"pct":99.8},
      {"panel":"C","ligand":"TC-FPR43","logc":-9,"pct":99.2},
      {"panel":"C","ligand":"TC-FPR43","logc":-8,"pct":97.2},
      {"panel":"C","ligand":"TC-FPR43","logc":-7.5,"pct":94.8},
      {"panel":"C","ligand":"TC-FPR43","logc":-7,"pct":90.8},
      {"panel":"C","ligand":"TC-FPR43","logc":-6.5,"pct":84.1},
      {"panel":"C","ligand":"TC-FPR43","logc":-6,"pct":74},
      {"panel":"C","ligand":"TC-FPR43","logc":-5.5,"pct":60.5},
      {"panel":"C","ligand":"TC-FPR43","logc":-5,"pct":45},
      {"panel":"C","ligand":"fMLFK","logc":-11,"pct":100},
      {"panel":"C","ligand":"fMLFK","logc":-7.5,"pct":100},
      {"panel":"C","ligand":"fMLFK","logc":-7,"pct":99.6},
      {"panel":"C","ligand":"fMLFK","logc":-6.5,"pct":98.5},
      {"panel":"C","ligand":"fMLFK","logc":-6,"pct":95},
      {"panel":"C","ligand":"fMLFK","logc":-5.5,"pct":83},
      {"panel":"C","ligand":"fMLFK","logc":-5,"pct":62},
      {"panel":"C","ligand":"QuinC1","logc":-11,"pct":100},
      {"panel":"C","ligand":"QuinC1","logc":-10,"pct":99.7},
      {"panel":"C","ligand":"QuinC1","logc":-9,"pct":99},
      {"panel":"C","ligand":"QuinC1","logc":-8,"pct":96.9},
      {"panel":"C","ligand":"QuinC1","logc":-7.5,"pct":94.7},
      {"panel":"C","ligand":"QuinC1","logc":-7,"pct":91.5},
      {"panel":"C","ligand":"QuinC1","logc":-6.5,"pct":85.5},
      {"panel":"C","ligand":"QuinC1","logc":-6,"pct":76.5},
      {"panel":"C","ligand":"QuinC1","logc":-5.5,"pct":64},
      {"panel":"C","ligand":"QuinC1","logc":-5,"pct":50},
      {"panel":"C","ligand":"MMK1","logc":-11,"pct":100},
      {"panel":"C","ligand":"MMK1","logc":-10.5,"pct":97.5},
      {"panel":"C","ligand":"MMK1","logc":-10,"pct":96.2},
      {"panel":"C","ligand":"MMK1","logc":-9.5,"pct":95.7},
      {"panel":"C","ligand":"MMK1","logc":-9,"pct":95.5},
      {"panel":"C","ligand":"MMK1","logc":-5,"pct":95.5},
      {"panel":"C","ligand":"MCT-2","logc":-11,"pct":100},
      {"panel":"C","ligand":"MCT-2","logc":-9,"pct":100},
      {"panel":"C","ligand":"MCT-2","logc":-8,"pct":99},
      {"panel":"C","ligand":"MCT-2","logc":-7.5,"pct":98},
      {"panel":"C","ligand":"MCT-2","logc":-7,"pct":97},
      {"panel":"C","ligand":"MCT-2","logc":-6.5,"pct":96.5},
      {"panel":"C","ligand":"MCT-2","logc":-5,"pct":96.5},
      {"panel":"C","ligand":"F2Pal10","logc":-11,"pct":100},
      {"panel":"C","ligand":"F2Pal10","logc":-8,"pct":100},
      {"panel":"C","ligand":"F2Pal10","logc":-7.5,"pct":99},
      {"panel":"C","ligand":"F2Pal10","logc":-7,"pct":96},
      {"panel":"C","ligand":"F2Pal10","logc":-6.5,"pct":93},
      {"panel":"C","ligand":"F2Pal10","logc":-6,"pct":92},
      {"panel":"C","ligand":"F2Pal10","logc":-5,"pct":91.8},

      {"panel":"D","ligand":"WKYMVm","logc":-11,"pct":100},
      {"panel":"D","ligand":"WKYMVm","logc":-10,"pct":99.8},
      {"panel":"D","ligand":"WKYMVm","logc":-9,"pct":98.3},
      {"panel":"D","ligand":"WKYMVm","logc":-8.5,"pct":95.2},
      {"panel":"D","ligand":"WKYMVm","logc":-8,"pct":86.5},
      {"panel":"D","ligand":"WKYMVm","logc":-7.5,"pct":68.1},
      {"panel":"D","ligand":"WKYMVm","logc":-7,"pct":41.7},
      {"panel":"D","ligand":"WKYMVm","logc":-6.5,"pct":20.5},
      {"panel":"D","ligand":"WKYMVm","logc":-6,"pct":9.5},
      {"panel":"D","ligand":"WKYMVm","logc":-5.5,"pct":5.2},
      {"panel":"D","ligand":"WKYMVm","logc":-5,"pct":3.8},
      {"panel":"D","ligand":"fMLF","logc":-11,"pct":100},
      {"panel":"D","ligand":"fMLF","logc":-8,"pct":100},
      {"panel":"D","ligand":"fMLF","logc":-7.5,"pct":100.5},
      {"panel":"D","ligand":"fMLF","logc":-7,"pct":101.5},
      {"panel":"D","ligand":"fMLF","logc":-6.5,"pct":104},
      {"panel":"D","ligand":"fMLF","logc":-6,"pct":106.7},
      {"panel":"D","ligand":"fMLF","logc":-5.5,"pct":109},
      {"panel":"D","ligand":"fMLF","logc":-5,"pct":110},
      {"panel":"D","ligand":"WKYMVM","logc":-11,"pct":100},
      {"panel":"D","ligand":"WKYMVM","logc":-8.5,"pct":99.8},
      {"panel":"D","ligand":"WKYMVM","logc":-8,"pct":99.5},
      {"panel":"D","ligand":"WKYMVM","logc":-7.5,"pct":98},
      {"panel":"D","ligand":"WKYMVM","logc":-7,"pct":91.5},
      {"panel":"D","ligand":"WKYMVM","logc":-6.5,"pct":70.6},
      {"panel":"D","ligand":"WKYMVM","logc":-6,"pct":34.3},
      {"panel":"D","ligand":"WKYMVM","logc":-5.5,"pct":12},
      {"panel":"D","ligand":"WKYMVM","logc":-5,"pct":5},
      {"panel":"D","ligand":"ACT-389949","logc":-11,"pct":100},
      {"panel":"D","ligand":"ACT-389949","logc":-10,"pct":99.9},
      {"panel":"D","ligand":"ACT-389949","logc":-9,"pct":99.3},
      {"panel":"D","ligand":"ACT-389949","logc":-8.5,"pct":97.6},
      {"panel":"D","ligand":"ACT-389949","logc":-8,"pct":92.5},
      {"panel":"D","ligand":"ACT-389949","logc":-7.5,"pct":79.2},
      {"panel":"D","ligand":"ACT-389949","logc":-7,"pct":56.7},
      {"panel":"D","ligand":"ACT-389949","logc":-6.5,"pct":36},
      {"panel":"D","ligand":"ACT-389949","logc":-6,"pct":25.5},
      {"panel":"D","ligand":"ACT-389949","logc":-5.5,"pct":21.7},
      {"panel":"D","ligand":"ACT-389949","logc":-5,"pct":20.5},
      {"panel":"D","ligand":"BMS-986235","logc":-11,"pct":100},
      {"panel":"D","ligand":"BMS-986235","logc":-9,"pct":99.1},
      {"panel":"D","ligand":"BMS-986235","logc":-8.5,"pct":97.2},
      {"panel":"D","ligand":"BMS-986235","logc":-8,"pct":92},
      {"panel":"D","ligand":"BMS-986235","logc":-7.5,"pct":79.5},
      {"panel":"D","ligand":"BMS-986235","logc":-7,"pct":59},
      {"panel":"D","ligand":"BMS-986235","logc":-6.5,"pct":39.6},
      {"panel":"D","ligand":"BMS-986235","logc":-6,"pct":28.7},
      {"panel":"D","ligand":"BMS-986235","logc":-5.5,"pct":24.3},
      {"panel":"D","ligand":"BMS-986235","logc":-5,"pct":22.8},
      {"panel":"D","ligand":"TC-FPR43","logc":-11,"pct":100},
      {"panel":"D","ligand":"TC-FPR43","logc":-8,"pct":100},
      {"panel":"D","ligand":"TC-FPR43","logc":-7.5,"pct":99},
      {"panel":"D","ligand":"TC-FPR43","logc":-7,"pct":97},
      {"panel":"D","ligand":"TC-FPR43","logc":-6.5,"pct":92.5},
      {"panel":"D","ligand":"TC-FPR43","logc":-6,"pct":85},
      {"panel":"D","ligand":"TC-FPR43","logc":-5.5,"pct":76.5},
      {"panel":"D","ligand":"TC-FPR43","logc":-5,"pct":72},
      {"panel":"D","ligand":"fMLFK","logc":-11,"pct":100},
      {"panel":"D","ligand":"fMLFK","logc":-8,"pct":100},
      {"panel":"D","ligand":"fMLFK","logc":-7.5,"pct":99.3},
      {"panel":"D","ligand":"fMLFK","logc":-7,"pct":97.8},
      {"panel":"D","ligand":"fMLFK","logc":-6.5,"pct":93.5},
      {"panel":"D","ligand":"fMLFK","logc":-6,"pct":86},
      {"panel":"D","ligand":"fMLFK","logc":-5.5,"pct":77.5},
      {"panel":"D","ligand":"fMLFK","logc":-5,"pct":73},
      {"panel":"D","ligand":"QuinC1","logc":-11,"pct":100},
      {"panel":"D","ligand":"QuinC1","logc":-10,"pct":99.8},
      {"panel":"D","ligand":"QuinC1","logc":-9.5,"pct":99},
      {"panel":"D","ligand":"QuinC1","logc":-9,"pct":97.5},
      {"panel":"D","ligand":"QuinC1","logc":-8.5,"pct":94},
      {"panel":"D","ligand":"QuinC1","logc":-8,"pct":87.5},
      {"panel":"D","ligand":"QuinC1","logc":-7.5,"pct":78.5},
      {"panel":"D","ligand":"QuinC1","logc":-7,"pct":74},
      {"panel":"D","ligand":"QuinC1","logc":-6.5,"pct":72.8},
      {"panel":"D","ligand":"QuinC1","logc":-6,"pct":72.5},
      {"panel":"D","ligand":"QuinC1","logc":-5,"pct":72.5},
      {"panel":"D","ligand":"MMK1","logc":-11,"pct":100},
      {"panel":"D","ligand":"MMK1","logc":-7,"pct":99.6},
      {"panel":"D","ligand":"MMK1","logc":-6.5,"pct":98.2},
      {"panel":"D","ligand":"MMK1","logc":-6,"pct":91.7},
      {"panel":"D","ligand":"MMK1","logc":-5.5,"pct":69},
      {"panel":"D","ligand":"MMK1","logc":-5,"pct":31},
      {"panel":"D","ligand":"MCT-2","logc":-11,"pct":100},
      {"panel":"D","ligand":"MCT-2","logc":-8,"pct":100},
      {"panel":"D","ligand":"MCT-2","logc":-7.5,"pct":99.5},
      {"panel":"D","ligand":"MCT-2","logc":-7,"pct":98.3},
      {"panel":"D","ligand":"MCT-2","logc":-6.5,"pct":95},
      {"panel":"D","ligand":"MCT-2","logc":-6,"pct":92},
      {"panel":"D","ligand":"MCT-2","logc":-5.5,"pct":90.5},
      {"panel":"D","ligand":"MCT-2","logc":-5,"pct":90},
      {"panel":"D","ligand":"F2Pal10","logc":-11,"pct":100},
      {"panel":"D","ligand":"F2Pal10","logc":-7,"pct":100},
      {"panel":"D","ligand":"F2Pal10","logc":-6.5,"pct":96},
      {"panel":"D","ligand":"F2Pal10","logc":-6,"pct":84},
      {"panel":"D","ligand":"F2Pal10","logc":-5.5,"pct":60},
      {"panel":"D","ligand":"F2Pal10","logc":-5,"pct":29}
    ]
  },
  "concat": [
    {
      "width": 255, "height": 177,
      "title": {"text": "A", "anchor": "start", "frame": "group", "dx": -106, "offset": -16},
      "layer": [
        {
          "encoding": {
            "x": {"field": "logc", "type": "quantitative", "scale": {"domain": [-11.54, -4.83], "nice": false, "zero": false},
                  "axis": {"values": [-11, -10, -9, -8, -7, -6, -5], "labelExpr": "toString(datum.value)", "title": "[Ligand] (1x10ˣM)", "titleX": 134.8}},
            "y": {"field": "pct", "type": "quantitative", "scale": {"domain": [0, 120], "nice": false},
                  "axis": {"values": [0, 20, 40, 60, 80, 100, 120], "title": ["K(5/6-FAM)-WKYMVm Bound", "(% of max)"], "titleX": -61, "titleY": 63}},
            "color": {"field": "ligand", "type": "nominal",
                      "scale": {"domain": ["WKYMVm","fMLF","WKYMVM","ACT-389949","BMS-986235","TC-FPR43","fMLFK","QuinC1","MMK1","MCT-2","F2Pal10"],
                                "range": ["#000000","#ed1c24","#2e3a97","#662d91","#2db34a","#000000","#ed1c24","#2e3a97","#662d91","#2db34a","#1b9bb6"]},
                      "legend": {"orient": "none", "legendX": -47, "legendY": 575, "columns": 4, "direction": "horizontal", "title": null,
                                 "symbolType": "M-1,0H1M-0.42,-0.42H0.42V0.42H-0.42Z", "symbolSize": 289, "symbolStrokeWidth": 2}}
          },
          "layer": [
            {"data": {"name": "fit"}, "transform": [{"filter": "datum.panel === 'A'"}],
             "mark": {"type": "line", "interpolate": "monotone", "strokeWidth": 2},
             "encoding": {"strokeDash": {"field": "ligand", "type": "nominal", "legend": null,
               "scale": {"domain": ["WKYMVm","fMLF","WKYMVM","ACT-389949","BMS-986235","TC-FPR43","fMLFK","QuinC1","MMK1","MCT-2","F2Pal10"],
                         "range": [[1,0],[1,0],[1,0],[1,0],[1,0],[5,3],[5,3],[5,3],[5,3],[5,3],[1,0]]}}}},
            {"data": {"name": "pts"}, "transform": [{"filter": "datum.panel === 'A' && datum.sem > 0"}],
             "mark": {"type": "errorbar", "ticks": true, "thickness": 1.3, "opacity": 0.85},
             "encoding": {"yError": {"field": "sem"}}},
            {"data": {"name": "pts"}, "transform": [{"filter": "datum.panel === 'A'"}],
             "mark": {"type": "point", "shape": "square", "size": 45, "strokeWidth": 1.6, "opacity": 1},
             "encoding": {"fill": {"field": "ligand", "type": "nominal",
               "scale": {"domain": ["WKYMVm","fMLF","WKYMVM","ACT-389949","BMS-986235","TC-FPR43","fMLFK","QuinC1","MMK1","MCT-2","F2Pal10"],
                         "range": ["#000000","#ed1c24","#2e3a97","#662d91","#2db34a","#ffffff","#ffffff","#ffffff","#ffffff","#ffffff","#1b9bb6"]},
               "legend": {"orient": "none", "legendX": -47, "legendY": 575, "columns": 4, "direction": "horizontal", "title": null,
                          "symbolType": "M-1,0H1M-0.42,-0.42H0.42V0.42H-0.42Z", "symbolSize": 289, "symbolStrokeWidth": 2}}}}
          ]
        },
        {"data": {"name": "receptors"}, "transform": [{"filter": "datum.panel === 'A'"}],
         "mark": {"type": "text", "align": "left", "baseline": "alphabetic", "font": "Open Sans", "fontSize": 22, "fill": "#404040"},
         "encoding": {
           "x": {"datum": -10.96, "type": "quantitative",
                 "axis": {"values": [-11, -10, -9, -8, -7, -6, -5], "labelExpr": "toString(datum.value)", "title": "[Ligand] (1x10ˣM)", "titleX": 134.8}},
           "y": {"datum": 62.5, "type": "quantitative",
                 "axis": {"values": [0, 20, 40, 60, 80, 100, 120], "title": ["K(5/6-FAM)-WKYMVm Bound", "(% of max)"], "titleX": -61, "titleY": 63}},
           "text": {"field": "receptor", "type": "nominal"}}}
      ]
    },
    {
      "width": 255, "height": 177,
      "title": {"text": "B", "anchor": "start", "frame": "group", "dx": -106, "offset": -16},
      "layer": [
        {
          "encoding": {
            "x": {"field": "logc", "type": "quantitative", "scale": {"domain": [-11.54, -4.83], "nice": false, "zero": false},
                  "axis": {"values": [-11, -10, -9, -8, -7, -6, -5], "labelExpr": "toString(datum.value)", "title": "[Ligand] (1x10ˣM)", "titleX": 134.8}},
            "y": {"field": "pct", "type": "quantitative", "scale": {"domain": [0, 120], "nice": false},
                  "axis": {"values": [0, 20, 40, 60, 80, 100, 120], "title": ["K(5/6-FAM)-WKYMVm Bound", "(% of max)"], "titleX": -61, "titleY": 63}},
            "color": {"field": "ligand", "type": "nominal", "legend": null}
          },
          "layer": [
            {"data": {"name": "fit"}, "transform": [{"filter": "datum.panel === 'B'"}],
             "mark": {"type": "line", "interpolate": "monotone", "strokeWidth": 2},
             "encoding": {"strokeDash": {"field": "ligand", "type": "nominal", "legend": null}}},
            {"data": {"name": "pts"}, "transform": [{"filter": "datum.panel === 'B' && datum.sem > 0"}],
             "mark": {"type": "errorbar", "ticks": true, "thickness": 1.3, "opacity": 0.85},
             "encoding": {"yError": {"field": "sem"}}},
            {"data": {"name": "pts"}, "transform": [{"filter": "datum.panel === 'B'"}],
             "mark": {"type": "point", "shape": "square", "size": 45, "strokeWidth": 1.6, "opacity": 1},
             "encoding": {"fill": {"field": "ligand", "type": "nominal", "legend": null}}}
          ]
        },
        {"data": {"name": "receptors"}, "transform": [{"filter": "datum.panel === 'B'"}],
         "mark": {"type": "text", "align": "left", "baseline": "alphabetic", "font": "Open Sans", "fontSize": 22, "fill": "#404040"},
         "encoding": {
           "x": {"datum": -10.96, "type": "quantitative",
                 "axis": {"values": [-11, -10, -9, -8, -7, -6, -5], "labelExpr": "toString(datum.value)", "title": "[Ligand] (1x10ˣM)", "titleX": 134.8}},
           "y": {"datum": 62, "type": "quantitative",
                 "axis": {"values": [0, 20, 40, 60, 80, 100, 120], "title": ["K(5/6-FAM)-WKYMVm Bound", "(% of max)"], "titleX": -61, "titleY": 63}},
           "text": {"field": "receptor", "type": "nominal"}}}
      ]
    },
    {
      "width": 255, "height": 177,
      "title": {"text": "C", "anchor": "start", "frame": "group", "dx": -106, "offset": -16},
      "layer": [
        {
          "encoding": {
            "x": {"field": "logc", "type": "quantitative", "scale": {"domain": [-11.54, -4.83], "nice": false, "zero": false},
                  "axis": {"values": [-11, -10, -9, -8, -7, -6, -5], "labelExpr": "toString(datum.value)", "title": "[Ligand] (1x10ˣM)", "titleX": 134.8}},
            "y": {"field": "pct", "type": "quantitative", "scale": {"domain": [0, 120], "nice": false},
                  "axis": {"values": [0, 20, 40, 60, 80, 100, 120], "title": ["K(5/6-FAM)-WKYMVm Bound", "(% of max)"], "titleX": -61, "titleY": 63}},
            "color": {"field": "ligand", "type": "nominal", "legend": null}
          },
          "layer": [
            {"data": {"name": "fit"}, "transform": [{"filter": "datum.panel === 'C'"}],
             "mark": {"type": "line", "interpolate": "monotone", "strokeWidth": 2},
             "encoding": {"strokeDash": {"field": "ligand", "type": "nominal", "legend": null}}},
            {"data": {"name": "pts"}, "transform": [{"filter": "datum.panel === 'C' && datum.sem > 0"}],
             "mark": {"type": "errorbar", "ticks": true, "thickness": 1.3, "opacity": 0.85},
             "encoding": {"yError": {"field": "sem"}}},
            {"data": {"name": "pts"}, "transform": [{"filter": "datum.panel === 'C'"}],
             "mark": {"type": "point", "shape": "square", "size": 45, "strokeWidth": 1.6, "opacity": 1},
             "encoding": {"fill": {"field": "ligand", "type": "nominal", "legend": null}}}
          ]
        },
        {"data": {"name": "receptors"}, "transform": [{"filter": "datum.panel === 'C'"}],
         "mark": {"type": "text", "align": "left", "baseline": "alphabetic", "font": "Open Sans", "fontSize": 22, "fill": "#404040"},
         "encoding": {
           "x": {"datum": -10.96, "type": "quantitative",
                 "axis": {"values": [-11, -10, -9, -8, -7, -6, -5], "labelExpr": "toString(datum.value)", "title": "[Ligand] (1x10ˣM)", "titleX": 134.8}},
           "y": {"datum": 62.6, "type": "quantitative",
                 "axis": {"values": [0, 20, 40, 60, 80, 100, 120], "title": ["K(5/6-FAM)-WKYMVm Bound", "(% of max)"], "titleX": -61, "titleY": 63}},
           "text": {"field": "receptor", "type": "nominal"}}}
      ]
    },
    {
      "width": 255, "height": 177,
      "title": {"text": "D", "anchor": "start", "frame": "group", "dx": -106, "offset": -16},
      "layer": [
        {
          "encoding": {
            "x": {"field": "logc", "type": "quantitative", "scale": {"domain": [-11.54, -4.83], "nice": false, "zero": false},
                  "axis": {"values": [-11, -10, -9, -8, -7, -6, -5], "labelExpr": "toString(datum.value)", "title": "[Ligand] (1x10ˣM)", "titleX": 134.8}},
            "y": {"field": "pct", "type": "quantitative", "scale": {"domain": [0, 120], "nice": false},
                  "axis": {"values": [0, 20, 40, 60, 80, 100, 120], "title": ["K(5/6-FAM)-WKYMVm Bound", "(% of max)"], "titleX": -61, "titleY": 63}},
            "color": {"field": "ligand", "type": "nominal", "legend": null}
          },
          "layer": [
            {"data": {"name": "fit"}, "transform": [{"filter": "datum.panel === 'D'"}],
             "mark": {"type": "line", "interpolate": "monotone", "strokeWidth": 2},
             "encoding": {"strokeDash": {"field": "ligand", "type": "nominal", "legend": null}}},
            {"data": {"name": "pts"}, "transform": [{"filter": "datum.panel === 'D' && datum.sem > 0"}],
             "mark": {"type": "errorbar", "ticks": true, "thickness": 1.3, "opacity": 0.85},
             "encoding": {"yError": {"field": "sem"}}},
            {"data": {"name": "pts"}, "transform": [{"filter": "datum.panel === 'D'"}],
             "mark": {"type": "point", "shape": "square", "size": 45, "strokeWidth": 1.6, "opacity": 1},
             "encoding": {"fill": {"field": "ligand", "type": "nominal", "legend": null}}}
          ]
        },
        {"data": {"name": "receptors"}, "transform": [{"filter": "datum.panel === 'D'"}],
         "mark": {"type": "text", "align": "left", "baseline": "alphabetic", "font": "Open Sans", "fontSize": 22, "fill": "#404040"},
         "encoding": {
           "x": {"datum": -10.96, "type": "quantitative",
                 "axis": {"values": [-11, -10, -9, -8, -7, -6, -5], "labelExpr": "toString(datum.value)", "title": "[Ligand] (1x10ˣM)", "titleX": 134.8}},
           "y": {"datum": 63, "type": "quantitative",
                 "axis": {"values": [0, 20, 40, 60, 80, 100, 120], "title": ["K(5/6-FAM)-WKYMVm Bound", "(% of max)"], "titleX": -61, "titleY": 63}},
           "text": {"field": "receptor", "type": "nominal"}}}
      ]
    }
  ],
  "columns": 2,
  "spacing": {"row": 129, "column": 120},
  "bounds": "flush",
  "config": {
    "view": {"stroke": null},
    "font": "Liberation Sans",
    "title": {"fontSize": 23, "fontWeight": "bold", "color": "#000000", "font": "Liberation Sans", "baseline": "bottom"},
    "axis": {
      "grid": false, "domainColor": "#000000", "domainWidth": 2, "tickColor": "#000000", "tickWidth": 2, "tickSize": 7,
      "labelFont": "Liberation Sans", "labelFontSize": 15, "labelFontWeight": "bold", "labelColor": "#000000", "labelFlush": false, "labelOverlap": false,
      "titleFont": "Liberation Sans", "titleFontSize": 15, "titleFontWeight": "bold", "titleColor": "#000000", "titleLineHeight": 20
    },
    "axisX": {"labelPadding": 9, "titlePadding": 13, "titleFontSize": 17},
    "axisY": {"labelPadding": 3, "titleBaseline": "middle"},
    "tick": {"bandSize": 8, "thickness": 1.3},
    "legend": {"labelFont": "Liberation Sans", "labelFontSize": 12.5, "labelColor": "#000000", "labelOffset": 8,
               "columnPadding": 14, "rowPadding": 7.5, "gridAlign": "all", "padding": 0}
  }
}
